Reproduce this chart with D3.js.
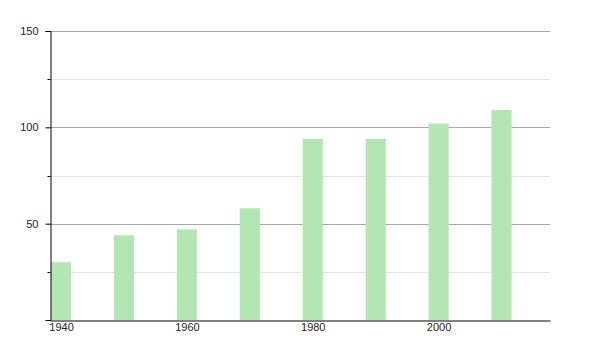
<!DOCTYPE html>
<html>
<head>
<meta charset="utf-8">
<script src="https://cdn.jsdelivr.net/npm/d3@7"></script>
<style>
  body { margin: 0; background: #fff; }
  svg { display: block; font-family: Arial, "Liberation Sans", sans-serif; }
</style>
</head>
<body>
<div id="wrapper"></div>
<script>
/* DATA */
const years = [1940, 1950, 1960, 1970, 1980, 1990, 2000, 2010];
const values = [30, 44, 47, 58, 94, 94, 102, 109];
const yMajorTicks = [50, 100, 150];
const yMinorTicks = [25, 75, 125];
const xTicks = [1940, 1960, 1980, 2000];

/* DIMENSIONS */
const dimensions = {
  width: 600,
  height: 350,
  margin: { top: 31, right: 50, bottom: 30, left: 50 },
};
dimensions.boundedWidth =
  dimensions.width - (dimensions.margin.left + dimensions.margin.right);
dimensions.boundedHeight =
  dimensions.height - (dimensions.margin.top + dimensions.margin.bottom);

/* SCALES */
const xScale = d3
  .scaleLinear()
  .domain([1938.25, 2017.7])
  .range([0, dimensions.boundedWidth]);

const yScale = d3
  .scaleLinear()
  .domain([0, 150])
  .range([dimensions.boundedHeight, 0]);

const barWidth = xScale(1943.2) - xScale(1940);

/* DRAW */
const wrapper = d3
  .select('#wrapper')
  .append('svg')
  .attr('width', dimensions.width)
  .attr('height', dimensions.height);

const bounds = wrapper
  .append('g')
  .attr('transform', `translate(${dimensions.margin.left},${dimensions.margin.top})`);

// grid lines
bounds
  .append('g')
  .selectAll('line.minor')
  .data(yMinorTicks)
  .join('line')
  .attr('class', 'minor')
  .attr('x1', 0)
  .attr('x2', dimensions.boundedWidth)
  .attr('y1', d => Math.round(yScale(d)) + 0.5)
  .attr('y2', d => Math.round(yScale(d)) + 0.5)
  .attr('stroke', '#e4e4e4')
  .attr('stroke-width', 1);

bounds
  .append('g')
  .selectAll('line.major')
  .data(yMajorTicks)
  .join('line')
  .attr('class', 'major')
  .attr('x1', 0)
  .attr('x2', dimensions.boundedWidth)
  .attr('y1', d => Math.round(yScale(d)) + 0.5)
  .attr('y2', d => Math.round(yScale(d)) + 0.5)
  .attr('stroke', '#a8a8a8')
  .attr('stroke-width', 1);

// bars
bounds
  .append('g')
  .selectAll('rect')
  .data(years)
  .join('rect')
  .attr('x', d => xScale(d) - barWidth / 2)
  .attr('width', barWidth)
  .attr('y', (d, i) => yScale(values[i]))
  .attr('height', (d, i) => dimensions.boundedHeight - yScale(values[i]))
  .attr('fill', '#b3e6b3');

/* AXES */
const yAxisGenerator = d3
  .axisLeft(yScale)
  .tickValues(yMajorTicks)
  .tickSize(5)
  .tickPadding(7);

const yAxisGroup = bounds.append('g').attr('transform', 'translate(0.5,0)').call(yAxisGenerator);
yAxisGroup.select('.domain').attr('stroke', '#000');

// minor ticks on y axis
yAxisGroup
  .selectAll('line.minor-tick')
  .data(yMinorTicks)
  .join('line')
  .attr('class', 'minor-tick')
  .attr('x1', -3)
  .attr('x2', 0)
  .attr('y1', d => Math.round(yScale(d)) + 0.5)
  .attr('y2', d => Math.round(yScale(d)) + 0.5)
  .attr('stroke', '#000');

const xAxisGenerator = d3
  .axisBottom(xScale)
  .tickValues(xTicks)
  .tickFormat(d3.format('d'))
  .tickSize(0)
  .tickSizeOuter(0)
  .tickPadding(3);

const xAxisGroup = bounds
  .append('g')
  .attr('transform', `translate(0,${Math.round(dimensions.boundedHeight) + 0.5})`)
  .call(xAxisGenerator);
xAxisGroup.select('.domain').attr('stroke', '#000');

d3.selectAll('g.tick text')
  .attr('font-size', 11)
  .attr('fill', '#222')
  .attr('font-family', 'Arial, "Liberation Sans", sans-serif');
</script>
</body>
</html>
